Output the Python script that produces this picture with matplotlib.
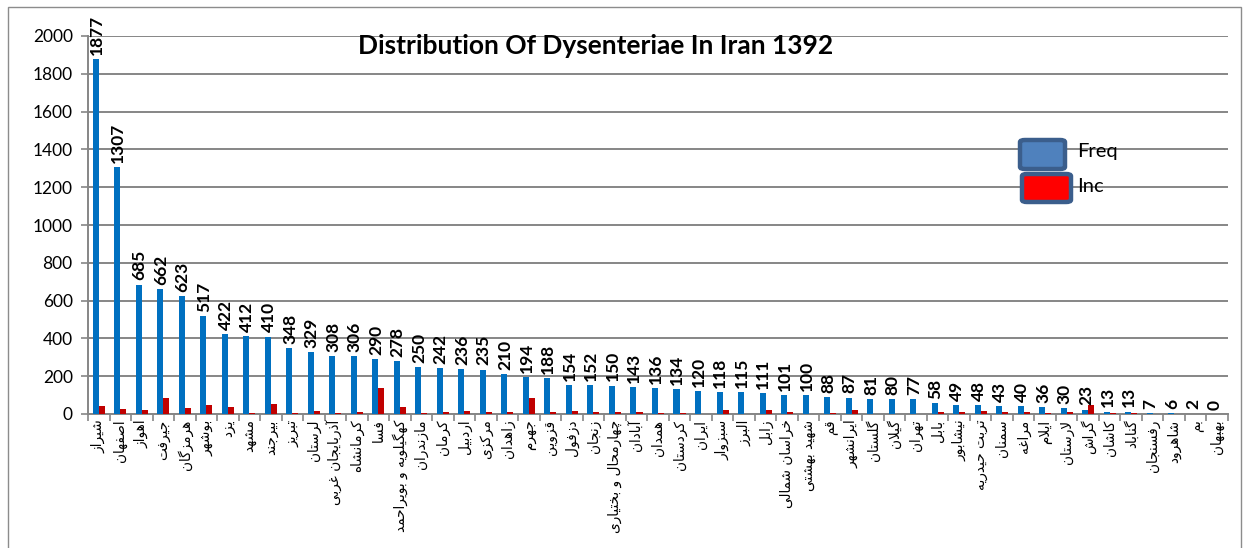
import matplotlib
matplotlib.use("Agg")
import matplotlib.pyplot as plt
import numpy as np
from matplotlib.patches import FancyBboxPatch, Rectangle

cities = ["شیراز", "اصفهان", "اهواز", "جیرفت", "هرمزگان", "بوشهر", "یزد", "مشهد",
          "بیرجند", "تبریز", "لرستان", "آذربایجان غربی", "کرمانشاه", "فسا",
          "کهگیلویه و بویراحمد", "مازندران", "کرمان", "اردبیل", "مرکزی", "زاهدان",
          "جهرم", "قزوین", "دزفول", "زنجان", "چهارمحال و بختیاری", "آبادان", "همدان",
          "کردستان", "ایران", "سبزوار", "البرز", "زابل", "خراسان شمالی", "شهید بهشتی",
          "قم", "ایرانشهر", "گلستان", "گیلان", "تهران", "بابل", "نیشابور", "تربت حیدریه",
          "سمنان", "مراغه", "ایلام", "لارستان", "گراش", "کاشان", "گناباد", "رفسنجان",
          "شاهرود", "بم", "بهبهان"]
freq = [1877, 1307, 685, 662, 623, 517, 422, 412, 410, 348, 329, 308, 306, 290, 278,
        250, 242, 236, 235, 210, 194, 188, 154, 152, 150, 143, 136, 134, 120, 118,
        115, 111, 101, 100, 88, 87, 81, 80, 77, 58, 49, 48, 43, 40, 36, 30, 23, 13,
        13, 7, 6, 2, 0]
inc = [43, 25, 20, 86, 34, 46, 38, 5, 52, 5, 14, 5, 11, 138, 36, 7, 11, 16, 13, 9,
       86, 11, 18, 11, 13, 11, 4, 3, 0, 21, 0, 21, 9, 0, 5, 23, 0, 0, 0, 9, 9, 18,
       11, 11, 7, 11, 46, 4, 4, 0, 0, 0, 0]
yticks = list(range(0, 2001, 200))

# matplotlib does no Arabic shaping: map letters to presentation forms
# (isolated, final, initial, medial) and reverse for right-to-left display
FORMS = {
    "ا": "\uFE8D\uFE8E", "آ": "\uFE81\uFE82", "د": "\uFEA9\uFEAA", "ذ": "\uFEAB\uFEAC",
    "ر": "\uFEAD\uFEAE", "ز": "\uFEAF\uFEB0", "ژ": "\uFB8A\uFB8B", "و": "\uFEED\uFEEE",
    "ب": "\uFE8F\uFE90\uFE91\uFE92", "پ": "\uFB56\uFB57\uFB58\uFB59",
    "ت": "\uFE95\uFE96\uFE97\uFE98", "ث": "\uFE99\uFE9A\uFE9B\uFE9C",
    "ج": "\uFE9D\uFE9E\uFE9F\uFEA0", "چ": "\uFB7A\uFB7B\uFB7C\uFB7D",
    "ح": "\uFEA1\uFEA2\uFEA3\uFEA4", "خ": "\uFEA5\uFEA6\uFEA7\uFEA8",
    "س": "\uFEB1\uFEB2\uFEB3\uFEB4", "ش": "\uFEB5\uFEB6\uFEB7\uFEB8",
    "ص": "\uFEB9\uFEBA\uFEBB\uFEBC", "ض": "\uFEBD\uFEBE\uFEBF\uFEC0",
    "ط": "\uFEC1\uFEC2\uFEC3\uFEC4", "ظ": "\uFEC5\uFEC6\uFEC7\uFEC8",
    "ع": "\uFEC9\uFECA\uFECB\uFECC", "غ": "\uFECD\uFECE\uFECF\uFED0",
    "ف": "\uFED1\uFED2\uFED3\uFED4", "ق": "\uFED5\uFED6\uFED7\uFED8",
    "ک": "\uFB8E\uFB8F\uFB90\uFB91", "گ": "\uFB92\uFB93\uFB94\uFB95",
    "ل": "\uFEDD\uFEDE\uFEDF\uFEE0", "م": "\uFEE1\uFEE2\uFEE3\uFEE4",
    "ن": "\uFEE5\uFEE6\uFEE7\uFEE8", "ه": "\uFEE9\uFEEA\uFEEB\uFEEC",
    "ی": "\uFBFC\uFBFD\uFBFE\uFBFF",
}


def shape(word):
    out, i, n = [], 0, len(word)
    while i < n:
        c = word[i]
        if c not in FORMS:
            out.append(c); i += 1; continue
        prev_j = i > 0 and len(FORMS.get(word[i - 1], "")) == 4
        if c == "ل" and i + 1 < n and word[i + 1] == "ا":
            out.append("\uFEFC" if prev_j else "\uFEFB"); i += 2; continue
        next_j = len(FORMS[c]) == 4 and i + 1 < n and word[i + 1] in FORMS
        f = FORMS[c]
        if prev_j and next_j:
            out.append(f[3])
        elif next_j:
            out.append(f[2])
        elif prev_j:
            out.append(f[1])
        else:
            out.append(f[0])
        i += 1
    return "".join(reversed(out))


W, H = 1249, 548
fig = plt.figure(figsize=(W / 100, H / 100), dpi=100)
ax = fig.add_axes([88 / W, 1 - 414 / H, 1140 / W, 378 / H])

GRAY = "#868686"
x = np.arange(len(cities))
bw = 0.28
ax.bar(x - bw / 2, freq, bw, color="#0070c0", zorder=3)
ax.bar(x + bw / 2, inc, bw, color="#c00000", zorder=3)

for xi, v in zip(x, freq):
    ax.annotate(str(v), (xi - 0.1, v), xytext=(0, 3), textcoords="offset points",
                rotation=90, ha="center", va="bottom", fontsize=12.5,
                fontweight="bold", family="Lato", annotation_clip=False, zorder=4)

ax.set_xlim(-0.5, len(cities) - 0.5)
ax.set_ylim(0, 2000)
ax.set_yticks(yticks)
ax.set_yticklabels([str(t) for t in yticks], family="Lato", fontsize=12.5)
ax.yaxis.grid(True, color=GRAY, lw=1.4, zorder=0)
ax.set_axisbelow(True)

# category boundary tick marks below the axis, names at category centres
ax.set_xticks(np.arange(len(cities) + 1) - 0.5)
ax.set_xticklabels([])
ax.set_xticks(x, minor=True)
ax.set_xticklabels([shape(c) for c in cities], minor=True, rotation=90,
                   fontsize=9.8, family="DejaVu Sans", va="top", ha="center")
ax.tick_params(axis="x", which="major", length=5, color=GRAY, width=1.2)
ax.tick_params(axis="x", which="minor", length=0, pad=4)
ax.tick_params(axis="y", length=5, color=GRAY, width=1.2, pad=6)
for s in ("top", "right"):
    ax.spines[s].set_visible(False)
for s in ("left", "bottom"):
    ax.spines[s].set_color(GRAY)
    ax.spines[s].set_linewidth(1.4)

fig.text(596 / W, 1 - 46 / H, "Distribution Of Dysenteriae In Iran 1392",
         ha="center", va="center", fontsize=19, fontweight="bold", family="Lato")

# legend boxes
def px_box(x0, y0, x1, y1, face):
    fig.add_artist(FancyBboxPatch((x0 / W, 1 - y1 / H), (x1 - x0) / W, (y1 - y0) / H,
                                  boxstyle="round,pad=0,rounding_size=0.004",
                                  transform=fig.transFigure, facecolor=face,
                                  edgecolor="#3b5e8c", lw=3.2, zorder=5))

px_box(1020, 140, 1065, 169, "#4f81bd")
px_box(1022, 174, 1071, 202, "#ff0000")
fig.text(1077 / W, 1 - 152 / H, "Freq", fontsize=14.5, family="Lato", va="center")
fig.text(1077 / W, 1 - 186 / H, "Inc", fontsize=14.5, family="Lato", va="center")

fig.add_artist(Rectangle((8 / W, -0.1), 1233 / W, 1.1 - 7 / H, transform=fig.transFigure,
                         fill=False, edgecolor="#8c8c8c", lw=1))

fig.savefig("out.png", dpi=100)
